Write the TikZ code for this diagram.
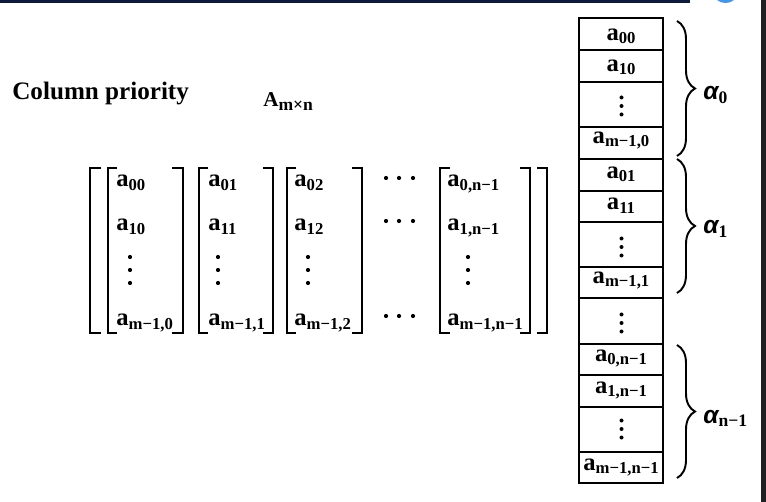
\documentclass[tikz,border=0pt]{standalone}
\usepackage{fontspec}
\setmainfont{Liberation Serif}
\newfontfamily\alphafont{Liberation Sans}
\usetikzlibrary{decorations.pathreplacing}
\definecolor{topbar}{RGB}{14,26,58}
\definecolor{edgegray}{RGB}{32,32,34}
\definecolor{arcblue}{RGB}{70,150,225}
\newcommand{\ent}[1]{\textbf{a}\raisebox{-1.8pt}{\fontsize{9.5}{11}\selectfont\textbf{#1}}}
\newcommand{\alf}[1]{{\alphafont\bfseries\itshape α}\raisebox{-1.8pt}{\fontsize{10}{11}\selectfont\textbf{#1}}}
\tikzset{
  entry/.style={inner sep=0pt, anchor=base west, font=\fontsize{14}{16}\selectfont},
  cell/.style={inner sep=0pt, anchor=base, font=\fontsize{14}{16}\selectfont},
  bracket/.style={line width=1.1pt},
  grp/.style={decorate, decoration={brace, amplitude=0.36cm}, line width=1.1pt},
  dotty/.style={fill=black}
}

\begin{document}
\begin{tikzpicture}[x=0.02cm, y=-0.02cm]
\useasboundingbox (0,0) rectangle (766,502);
% screen edges
\fill[topbar] (0,0) rectangle (690,3);
\fill[arcblue] (717,0) .. controls (721,4) and (730,4) .. (734,0) -- cycle;
\fill[edgegray] (761,0) rectangle (766,502);

% titles
\node[inner sep=0pt, anchor=base west, font=\fontsize{14.3}{17}\selectfont\bfseries] (title) at (12,99.5) {Column priority};
\node[inner sep=0pt, anchor=base west, font=\fontsize{12}{14}\selectfont] (Amn) at (263,106.5) {\textbf{A}\raisebox{-2pt}{\fontsize{10}{11}\selectfont\textbf{m×n}}};

% outer brackets
\draw[bracket] (101,168)--(90,168)--(90,333)--(101,333);
\draw[bracket] (537,168)--(547,168)--(547,333)--(537,333);
% column brackets
\draw[bracket] (117,168)--(108,168)--(108,333)--(117,333);
\draw[bracket] (172,168)--(183,168)--(183,333)--(172,333);
\draw[bracket] (208,168)--(199,168)--(199,333)--(208,333);
\draw[bracket] (263,168)--(273,168)--(273,333)--(263,333);
\draw[bracket] (296,168)--(287,168)--(287,333)--(296,333);
\draw[bracket] (352,168)--(362,168)--(362,333)--(352,333);
\draw[bracket] (450,168)--(440,168)--(440,333)--(450,333);
\draw[bracket] (520,168)--(530,168)--(530,333)--(520,333);

% matrix entries
\node[entry] (m00) at (116,187) {\ent{00}};
\node[entry] (m10) at (116,231) {\ent{10}};
\node[entry] (mm0) at (116,326) {\ent{m−1,0}};
\node[entry] (m01) at (208,187) {\ent{01}};
\node[entry] (m11) at (208,231) {\ent{11}};
\node[entry] (mm1) at (208,326) {\ent{m−1,1}};
\node[entry] (m02) at (294,187) {\ent{02}};
\node[entry] (m12) at (294,231) {\ent{12}};
\node[entry] (mm2) at (294,326) {\ent{m−1,2}};
\node[entry] (m0n) at (447,187) {\ent{0,n−1}};
\node[entry] (m1n) at (447,231) {\ent{1,n−1}};
\node[entry] (mmn) at (447,326) {\ent{m−1,n−1}};
\foreach \x in {130,218,308,468}
  \foreach \y in {257,270,283}
    \fill[dotty] (\x,\y) circle (2.1);
\foreach \y in {178,221,316}
  \foreach \x in {386,399,413}
    \fill[dotty] (\x,\y) circle (2.1);

% storage column
\draw[bracket] (579,18) rectangle (663,483);
\foreach \y in {50,82,127,159,191,222,267,298,344,375,407,452}
  \draw[bracket] (579,\y)--(663,\y);
\node[cell] (s00) at (621,40.7) {\ent{00}};
\node[cell] (s10) at (621,71.7) {\ent{10}};
\node[cell] (sm0) at (621,143.3) {\ent{m−1,0}};
\node[cell] (s01) at (621,178.3) {\ent{01}};
\node[cell] (s11) at (621,210) {\ent{11}};
\node[cell] (sm1) at (621,283.3) {\ent{m−1,1}};
\node[cell] (s0n) at (621,361.7) {\ent{0,n−1}};
\node[cell] (s1n) at (621,393.3) {\ent{1,n−1}};
\node[cell] (smn) at (621,470) {\ent{m−1,n−1}};
\foreach \y in {106,247,323,429}
  \foreach \d in {-8.5,0,8.5}
    \fill[dotty] (621.5,\y+\d) circle (2);

% braces
\draw[grp] (677,21)--(677,156);
\draw[grp] (677,159)--(677,293);
\draw[grp] (677,345)--(677,478);
\node[inner sep=0pt, anchor=base west, font=\fontsize{14}{16}\selectfont] (al0) at (703,100) {\alf{0}};
\node[inner sep=0pt, anchor=base west, font=\fontsize{14}{16}\selectfont] (al1) at (703,234) {\alf{1}};
\node[inner sep=0pt, anchor=base west, font=\fontsize{14}{16}\selectfont] (aln) at (703,423) {\alf{n−1}};
\end{tikzpicture}
\end{document}
